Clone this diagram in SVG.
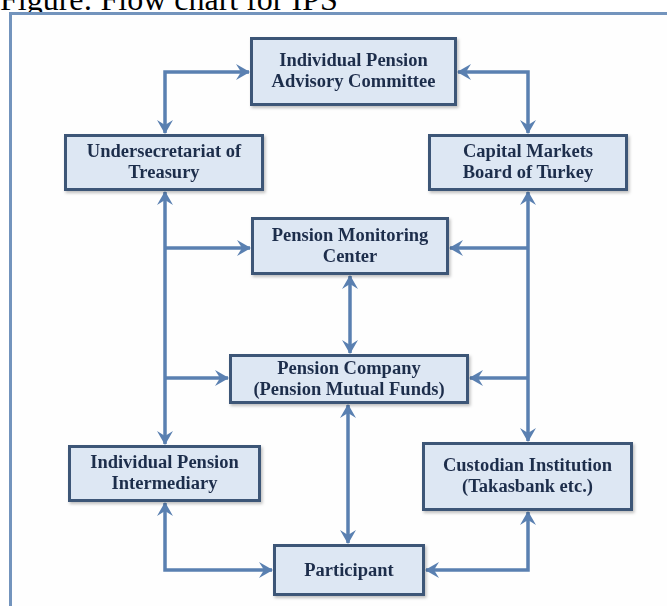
<svg xmlns="http://www.w3.org/2000/svg" width="667" height="606" viewBox="0 0 667 606">
<style>
.box{fill:#dde7f3;stroke:#3d5677;stroke-width:3}
.lbl{font-family:"Liberation Serif","Times New Roman",serif;font-weight:bold;font-size:18.5px;fill:#1f2e4c;text-anchor:middle}
.ln{fill:none;stroke:#5a80b1;stroke-width:3.5}
.both{marker-start:url(#ah);marker-end:url(#ah)}
.end{marker-end:url(#ah)}
.title{font-family:"Liberation Serif","Times New Roman",serif;font-size:32px;fill:#000}
</style>
<defs>
<marker id="ah" markerUnits="userSpaceOnUse" markerWidth="14" markerHeight="16" viewBox="0 0 14 16" refX="13" refY="8" orient="auto-start-reverse">
<path d="M0,0 L14,8 L0,16 L5,8 z" fill="#5a80b1"/>
</marker>
<filter id="sh" x="-10%" y="-10%" width="130%" height="140%">
<feDropShadow dx="1.5" dy="2" stdDeviation="1.5" flood-color="#000" flood-opacity="0.25"/>
</filter>
</defs>
<rect width="667" height="606" fill="#fff"/>
<text class="title" x="0" y="10">Figure: Flow chart for IPS</text>
<rect x="10.5" y="13.5" width="700" height="700" fill="#fefefe" stroke="#7394bd" stroke-width="3"/>
<g id="connectors">
<path class="ln both" d="M165,133 V72 H249"/>
<path class="ln both" d="M528,133 V72 H458"/>
<path class="ln both" d="M165,192 V444"/>
<path class="ln both" d="M528,192 V441"/>
<path class="ln end" d="M165,248 H250"/>
<path class="ln end" d="M165,378 H228"/>
<path class="ln end" d="M528,248 H450"/>
<path class="ln end" d="M528,378 H470"/>
<path class="ln both" d="M350,276 V353"/>
<path class="ln both" d="M348,405 V543"/>
<path class="ln both" d="M165,503 V570 H272"/>
<path class="ln both" d="M528,512 V570 H426"/>
</g>
<g id="ipac" filter="url(#sh)">
<rect class="box" x="251.5" y="38.5" width="204" height="66"/>
<text class="lbl" x="353.5" y="66">Individual Pension</text>
<text class="lbl" x="353.5" y="87">Advisory Committee</text>
</g>
<g id="treasury" filter="url(#sh)">
<rect class="box" x="65.5" y="135.5" width="197" height="54"/>
<text class="lbl" x="164" y="157">Undersecretariat of</text>
<text class="lbl" x="164" y="178">Treasury</text>
</g>
<g id="cmb" filter="url(#sh)">
<rect class="box" x="429.5" y="135.5" width="197" height="54"/>
<text class="lbl" x="528" y="157">Capital Markets</text>
<text class="lbl" x="528" y="178">Board of Turkey</text>
</g>
<g id="pmc" filter="url(#sh)">
<rect class="box" x="252.5" y="218.5" width="195" height="55"/>
<text class="lbl" x="350" y="241">Pension Monitoring</text>
<text class="lbl" x="350" y="262">Center</text>
</g>
<g id="pc" filter="url(#sh)">
<rect class="box" x="230.5" y="355.5" width="237" height="47"/>
<text class="lbl" x="349" y="374">Pension Company</text>
<text class="lbl" x="349" y="395">(Pension Mutual Funds)</text>
</g>
<g id="ipi" filter="url(#sh)">
<rect class="box" x="69.5" y="446.5" width="190" height="54"/>
<text class="lbl" x="164.5" y="468">Individual Pension</text>
<text class="lbl" x="164.5" y="489">Intermediary</text>
</g>
<g id="custodian" filter="url(#sh)">
<rect class="box" x="423.5" y="443.5" width="208" height="66"/>
<text class="lbl" x="527.5" y="471">Custodian Institution</text>
<text class="lbl" x="527.5" y="492">(Takasbank etc.)</text>
</g>
<g id="participant" filter="url(#sh)">
<rect class="box" x="274.5" y="545.5" width="149" height="49"/>
<text class="lbl" x="349" y="576">Participant</text>
</g>
</svg>
